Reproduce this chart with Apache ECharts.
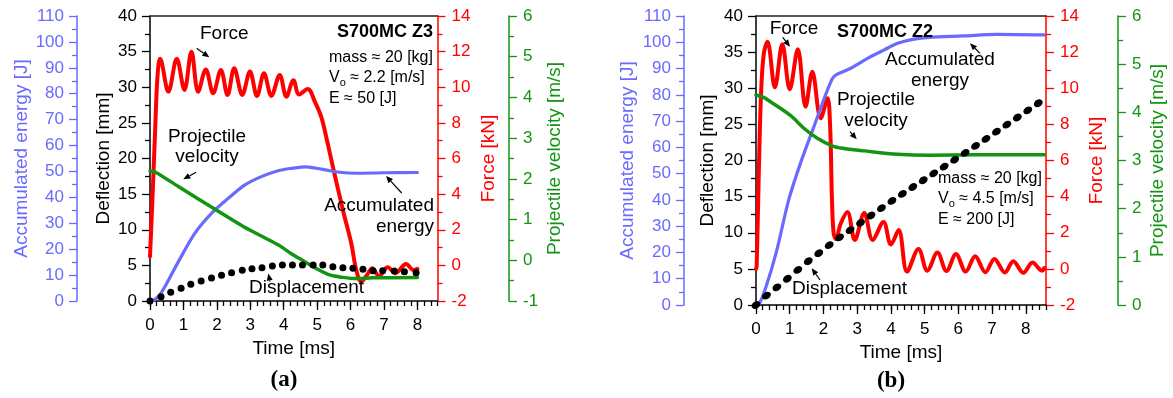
<!DOCTYPE html>
<html>
<head>
<meta charset="utf-8">
<script src="https://cdn.jsdelivr.net/npm/echarts@6/dist/echarts.min.js"></script>
<style>
  html, body { margin: 0; padding: 0; background: #fff; }
  #chart { width: 1173px; height: 398px; }
</style>
</head>
<body>
<div id="chart"></div>
<script>
// ---------- Panel (a): S700MC Z3 ----------
const forceTimeA = [0, 0.05, 0.1, 0.15, 0.2, 0.25, 0.3, 0.55, 0.8, 1.03, 1.24, 1.44, 1.67, 1.89, 2.12, 2.32, 2.52, 2.76, 2.99, 3.2, 3.41, 3.63, 3.88, 4.08, 4.29, 4.46, 4.72, 4.93, 5.12, 5.27, 5.47, 5.77, 6.02, 6.17, 6.32, 6.49, 6.65, 6.85, 7.11, 7.34, 7.66, 7.88, 8.0];
const forceA     = [0.5, 2.7, 5.0, 7.4, 9.8, 11.2, 11.6, 9.75, 11.6, 9.85, 12.0, 9.75, 11.0, 9.66, 10.97, 9.57, 11.07, 9.57, 10.88, 9.51, 10.78, 9.51, 10.69, 9.47, 10.4, 9.6, 9.9, 9.19, 8.35, 7.22, 5.54, 3.11, 1.24, -0.26, -0.92, -0.54, -0.16, -0.6, -0.11, -0.44, 0.08, -0.26, -0.2];

const velTimeA = [0, 0.15, 0.85, 1.97, 2.79, 3.83, 4.25, 4.58, 4.97, 5.37, 5.77, 6.17, 6.67, 8.0];
const velA     = [2.19, 2.17, 1.81, 1.24, 0.83, 0.38, 0.15, -0.01, -0.2, -0.36, -0.42, -0.45, -0.43, -0.42];

const energyTimeA = [0, 0.15, 0.3, 0.5, 0.85, 1.34, 1.84, 2.34, 2.84, 3.33, 3.83, 4.23, 4.67, 5.17, 5.67, 6.17, 7.0, 8.0];
const energyA     = [0, 0.6, 2.5, 6.8, 15.2, 26.1, 33.8, 39.6, 44.8, 48.0, 50.3, 51.2, 51.8, 50.8, 49.7, 49.3, 49.5, 49.6];

const dispTimeA = [0, 0.33, 0.62, 0.93, 1.22, 1.53, 1.84, 2.14, 2.44, 2.76, 3.05, 3.35, 3.66, 3.96, 4.26, 4.56, 4.88, 5.17, 5.47, 5.77, 6.07, 6.37, 6.67, 6.96, 7.31, 7.61, 7.96];
const dispA     = [0, 0.61, 1.22, 1.78, 2.34, 2.81, 3.23, 3.6, 3.98, 4.3, 4.54, 4.68, 4.91, 5.05, 5.05, 5.05, 5.05, 5.05, 4.82, 4.68, 4.58, 4.44, 4.26, 4.26, 4.21, 4.12, 3.98];

// ---------- Panel (b): S700MC Z2 ----------
const forceTimeB = [0, 0.02, 0.08, 0.15, 0.23, 0.34, 0.56, 0.78, 1.0, 1.24, 1.47, 1.67, 1.92, 2.12, 2.2, 2.25, 2.3, 2.37, 2.51, 2.71, 2.93, 3.21, 3.46, 3.78, 4.0, 4.23, 4.48, 4.82, 5.08, 5.38, 5.65, 5.93, 6.22, 6.5, 6.8, 7.07, 7.38, 7.63, 7.93, 8.2, 8.48, 8.55];
const forceB     = [0.0, 0.15, 5.1, 9.7, 11.9, 12.58, 10.05, 12.43, 9.95, 12.16, 8.98, 10.92, 8.34, 9.44, 7.8, 4.0, 2.0, 1.65, 2.5, 3.15, 1.6, 3.1, 1.6, 2.6, 1.35, 2.15, -0.15, 1.1, -0.1, 0.9, -0.12, 0.82, -0.15, 0.7, -0.18, 0.55, -0.2, 0.42, -0.22, 0.35, -0.1, 0.05];

const velTimeB = [0, 0.23, 0.43, 1.03, 1.42, 1.82, 2.27, 2.61, 3.21, 4.2, 5.14, 6.5, 8.55];
const velB     = [4.36, 4.31, 4.22, 3.93, 3.67, 3.46, 3.3, 3.25, 3.2, 3.13, 3.11, 3.12, 3.12];

const energyTimeB = [0, 0.1, 0.3, 0.6, 0.97, 1.32, 1.72, 2.02, 2.27, 2.4, 2.81, 3.31, 3.8, 4.2, 4.65, 5.14, 6.14, 7.13, 8.55];
const energyB     = [0, 0.5, 7, 20, 40, 54, 68, 78.5, 86.3, 87.8, 90.1, 93.9, 97.1, 99.6, 101.1, 101.9, 102.4, 103, 102.8];

const dispTimeB = [0, 0.31, 0.62, 0.93, 1.24, 1.55, 1.86, 2.17, 2.48, 2.79, 3.1, 3.41, 3.72, 4.03, 4.34, 4.65, 4.96, 5.27, 5.58, 5.89, 6.2, 6.51, 6.82, 7.13, 7.44, 7.75, 8.06, 8.37];
const dispB     = [0, 1.3, 2.45, 3.63, 4.86, 6.06, 7.17, 8.28, 9.36, 10.37, 11.38, 12.39, 13.4, 14.41, 15.38, 16.33, 17.27, 18.22, 19.16, 20.11, 21.05, 22.02, 23.0, 23.99, 24.97, 25.95, 26.94, 27.92];

// ---------- Axis tick labels ----------
const timeTicks = [0, 1, 2, 3, 4, 5, 6, 7, 8];

// ---------- Styling ----------
const FONT = 'Liberation Sans, Arial, sans-serif';
const BLUE = '#6a6aff';
const RED = '#ff0000';
const GREEN = '#139413';
const BLACK = '#000000';

const pairs = (xs, ys) => xs.map((x, i) => [x, ys[i]]);

function yAxis(grid, position, offset, min, max, interval, name, color, nameGap, labelMargin) {
  return {
    type: 'value', gridIndex: grid, position: position, offset: offset,
    min: min, max: max, interval: interval,
    name: name, nameLocation: 'middle', nameGap: nameGap, nameRotate: 90,
    nameTextStyle: { color: color, fontSize: 19, fontFamily: FONT },
    axisLine: { show: true, onZero: false, lineStyle: { color: color, width: 1.5 } },
    axisTick: { show: true, length: 8, lineStyle: { color: color, width: 1.3 } },
    minorTick: { show: true, splitNumber: 2, length: 5, lineStyle: { color: color, width: 1.3 } },
    axisLabel: { color: color, fontSize: 17, fontFamily: FONT, margin: labelMargin },
    splitLine: { show: false }
  };
}

function xAxes(grid, nameGap) {
  return [
    {
      type: 'value', gridIndex: grid, position: 'bottom', min: 0, max: 8.6, interval: 1,
      name: 'Time [ms]', nameLocation: 'middle', nameGap: nameGap,
      nameTextStyle: { color: BLACK, fontSize: 19, fontFamily: FONT },
      axisLine: { show: true, onZero: false, lineStyle: { color: BLACK, width: 1.5 } },
      axisTick: { show: true, length: 9, customValues: timeTicks, lineStyle: { color: BLACK, width: 1.3 } },
      axisLabel: { color: BLACK, fontSize: 17, fontFamily: FONT, margin: 16, customValues: timeTicks },
      splitLine: { show: false }
    },
    {
      type: 'value', gridIndex: grid, position: 'bottom', min: 0, max: 8.6, interval: 0.2,
      axisLine: { show: false },
      axisTick: { show: true, length: 5, lineStyle: { color: BLACK, width: 1.3 } },
      axisLabel: { show: false },
      splitLine: { show: false }
    },
    {
      type: 'value', gridIndex: grid, position: 'top', min: 0, max: 8.6,
      axisLine: { show: true, onZero: false, lineStyle: { color: '#222', width: 1.5 } },
      axisTick: { show: false }, axisLabel: { show: false }, splitLine: { show: false }
    }
  ];
}

function panelSeries(xi, yBase, forceT, force, energyT, energy, velT, vel, dispT, disp, dotStyle) {
  return [
    {
      type: 'line', xAxisIndex: xi, yAxisIndex: yBase + 2, data: pairs(forceT, force),
      showSymbol: false, smooth: 0.35,
      lineStyle: { color: RED, width: 4, cap: 'round', join: 'round' }, z: 2
    },
    {
      type: 'line', xAxisIndex: xi, yAxisIndex: yBase + 1, data: pairs(energyT, energy),
      showSymbol: false, smooth: 0.3,
      lineStyle: { color: BLUE, width: 3.2, cap: 'round' }, z: 3
    },
    {
      type: 'line', xAxisIndex: xi, yAxisIndex: yBase + 3, data: pairs(velT, vel),
      showSymbol: false, smooth: 0.3,
      lineStyle: { color: GREEN, width: 3.5, cap: 'round' }, z: 4
    },
    Object.assign({
      type: 'scatter', xAxisIndex: xi, yAxisIndex: yBase + 0, data: pairs(dispT, disp),
      itemStyle: { color: BLACK, opacity: 1 }, z: 5, silent: true
    }, dotStyle)
  ];
}

function label(x, y, text, opts) {
  opts = opts || {};
  const align = opts.align || 'left';
  return {
    type: 'text', x: x, y: y, z: 100,
    style: Object.assign({
      text: text, fill: opts.color || BLACK,
      fontSize: opts.size || 19, fontFamily: opts.family || FONT, fontWeight: opts.weight || 'normal',
      align: align, verticalAlign: 'middle', textAlign: align, textVerticalAlign: 'middle'
    }, opts.extra || {})
  };
}

function arrow(x1, y1, x2, y2) {
  const ang = Math.atan2(y2 - y1, x2 - x1);
  const L = 7, W = 3;
  const bx = x2 - L * Math.cos(ang), by = y2 - L * Math.sin(ang);
  const px = W * Math.sin(ang), py = -W * Math.cos(ang);
  return [
    { type: 'line', z: 100, shape: { x1: x1, y1: y1, x2: bx, y2: by }, style: { stroke: BLACK, lineWidth: 1.2 } },
    { type: 'polygon', z: 100, shape: { points: [[x2, y2], [bx + px, by + py], [bx - px, by - py]] }, style: { fill: BLACK } }
  ];
}

function voLine(x, y, rest) {
  return {
    type: 'text', x: x, y: y, z: 100,
    style: {
      text: '{v|V}{s|o}{v|' + rest + '}',
      align: 'left', verticalAlign: 'middle', textAlign: 'left', textVerticalAlign: 'middle',
      rich: {
        v: { fontSize: 16, fontFamily: FONT, fill: BLACK, color: BLACK, lineHeight: 20, verticalAlign: 'middle' },
        s: { fontSize: 11, fontFamily: FONT, fill: BLACK, color: BLACK, lineHeight: 20, verticalAlign: 'bottom' }
      }
    }
  };
}

const graphics = [].concat(
  // panel (a) annotations
  [label(200, 34, 'Force'), label(207, 137, 'Projectile', { align: 'center' }), label(207, 157, 'velocity', { align: 'center' }),
   label(249, 288, 'Displacement'),
   label(434, 206, 'Accumulated', { align: 'right' }), label(434, 227, 'energy', { align: 'right' }),
   label(433, 32, 'S700MC Z3', { align: 'right', weight: 'bold', size: 18 }),
   label(329, 58, 'mass \u2248 20 [kg]', { size: 16 }), voLine(329, 78, ' \u2248 2.2 [m/s]'), label(329, 99, 'E \u2248 50 [J]', { size: 16 }),
   label(284, 380, '(a)', { align: 'center', weight: 'bold', size: 23, family: 'Liberation Serif, DejaVu Serif, serif' })],
  arrow(196.7, 48.3, 209.3, 57.3), arrow(196, 172.3, 183.3, 179.3), arrow(270, 281.7, 268.3, 273.5), arrow(401.7, 193, 386, 176),
  // panel (b) annotations
  [label(794, 29, 'Force', { align: 'center' }),
   label(837, 32, 'S700MC Z2', { weight: 'bold', size: 18 }),
   label(940, 60, 'Accumulated', { align: 'center' }), label(940, 81, 'energy', { align: 'center' }),
   label(876, 100, 'Projectile', { align: 'center' }), label(876, 121, 'velocity', { align: 'center' }),
   label(792, 289, 'Displacement'),
   label(938, 179, 'mass \u2248 20 [kg]', { size: 16 }), voLine(938, 199, ' \u2248 4.5 [m/s]'), label(938, 220, 'E \u2248 200 [J]', { size: 16 }),
   label(891, 381, '(b)', { align: 'center', weight: 'bold', size: 23, family: 'Liberation Serif, DejaVu Serif, serif' })],
  arrow(782.7, 37.3, 790, 46.7), arrow(980, 53.3, 970, 43.3), arrow(850, 131.7, 856.7, 139.3), arrow(820, 280, 811.7, 268.3)
);

const option = {
  animation: false,
  backgroundColor: '#ffffff',
  textStyle: { fontFamily: FONT },
  grid: [
    { left: 150, right: 735.5, top: 16, bottom: 97 },
    { left: 756, right: 127, top: 16, bottom: 93 }
  ],
  xAxis: [].concat(xAxes(0, 36), xAxes(1, 37)),
  yAxis: [
    yAxis(0, 'left', 0, 0, 40, 5, 'Deflection [mm]', BLACK, 37, 13),
    yAxis(0, 'left', 73, 0, 110, 10, 'Accumulated energy [J]', BLUE, 45, 13),
    yAxis(0, 'right', 0, -2, 14, 2, 'Force [kN]', RED, 42, 14),
    yAxis(0, 'right', 71.5, -1, 6, 1, 'Projectile velocity [m/s]', GREEN, 36, 14),
    yAxis(1, 'left', 0, 0, 40, 5, 'Deflection [mm]', BLACK, 39, 13),
    yAxis(1, 'left', 72, 0, 110, 10, 'Accumulated energy [J]', BLUE, 47, 13),
    yAxis(1, 'right', 0, -2, 14, 2, 'Force [kN]', RED, 41, 14),
    yAxis(1, 'right', 72, 0, 6, 1, 'Projectile velocity [m/s]', GREEN, 30, 14)
  ],
  series: [].concat(
    panelSeries(0, 0, forceTimeA, forceA, energyTimeA, energyA, velTimeA, velA, dispTimeA, dispA,
      { symbol: 'circle', symbolSize: 7 }),
    panelSeries(3, 4, forceTimeB, forceB, energyTimeB, energyB, velTimeB, velB, dispTimeB, dispB,
      { symbol: 'circle', symbolSize: [9.5, 7], symbolRotate: 33 })
  ),
  graphic: graphics
};

const chart = echarts.init(document.getElementById('chart'), null, { renderer: 'canvas' });
chart.setOption(option);
</script>
</body>
</html>
